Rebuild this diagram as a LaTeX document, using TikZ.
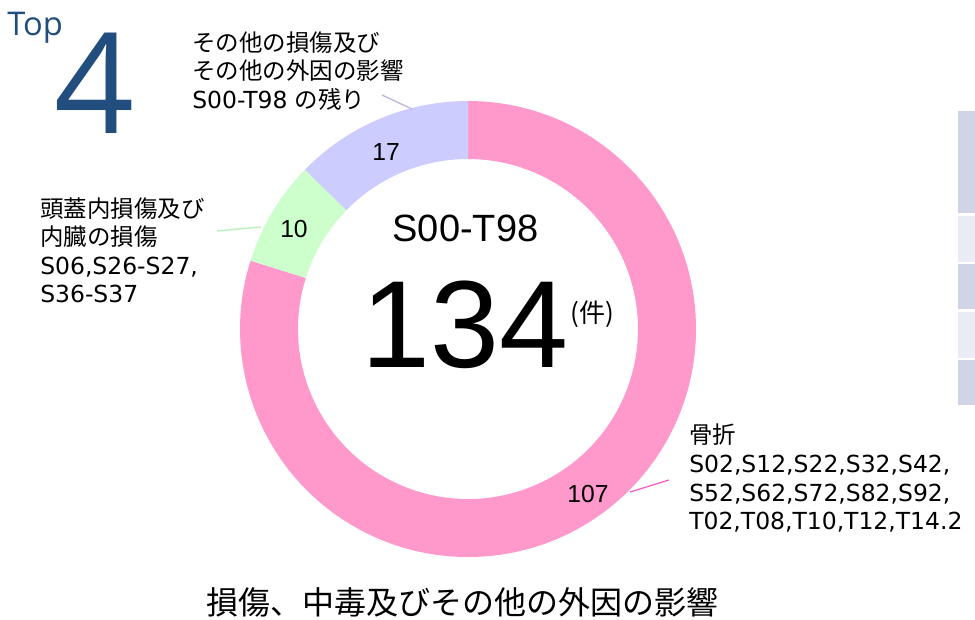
\documentclass[tikz,border=0pt]{standalone}
\usepackage{fontspec}
\setmainfont{DejaVu Sans}
\newfontfamily\jpfont{Noto Sans CJK JP}
\newfontfamily\numfont{Liberation Sans}
\newfontfamily\topfont{Open Sans}
\newcommand\ja[1]{{\jpfont #1}}

\definecolor{segpink}{HTML}{FF99CC}
\definecolor{seggreen}{HTML}{CCFFCC}
\definecolor{seglav}{HTML}{CCCCFF}
\definecolor{leadpink}{HTML}{F266C8}
\definecolor{leadgreen}{HTML}{B8F0B8}
\definecolor{leadlav}{HTML}{BDB6DA}
\definecolor{topblue}{HTML}{214D7F}
\definecolor{celldark}{HTML}{CFD5E7}
\definecolor{celllight}{HTML}{E9EBF5}

\begin{document}
\begin{tikzpicture}[x=0.75pt, y=-0.75pt,
    lbl/.style={anchor=north west, inner sep=0pt, align=left,
	font=\fontsize{17.6}{21.4}\selectfont},
    val/.style={inner sep=0pt, font=\numfont\fontsize{18.5}{20}\selectfont},
    lead/.style={line width=1pt}]
    \useasboundingbox (0, 0) rectangle (975, 619);

    % ring
    \begin{scope}[shift={(468, 329)}, y=0.75pt]
	\fill[segpink] (90:228) arc[start angle=90, end angle=-197.46, radius=228]
	    -- (-197.46:170) arc[start angle=-197.46, end angle=90, radius=170] -- cycle;
	\fill[seggreen] (-197.46:228) arc[start angle=-197.46, end angle=-224.33, radius=228]
	    -- (-224.33:170) arc[start angle=-224.33, end angle=-197.46, radius=170] -- cycle;
	\fill[seglav] (-224.33:228) arc[start angle=-224.33, end angle=-270, radius=228]
	    -- (-270:170) arc[start angle=-270, end angle=-224.33, radius=170] -- cycle;
    \end{scope}

    % table edge on the right
    \fill[celldark] (958, 111) rectangle (975, 213);
    \fill[celllight] (958, 216) rectangle (975, 262);
    \fill[celldark] (958, 264) rectangle (975, 309);
    \fill[celllight] (958, 312) rectangle (975, 358);
    \fill[celldark] (958, 360) rectangle (975, 405);

    \node[anchor=base west, inner sep=0pt, text=topblue,
	font=\topfont\fontsize{24.5}{26}\selectfont] (toplbl) at (7, 35) {Top};
    \node[anchor=base west, inner sep=0pt, text=topblue,
	font=\topfont\fontsize{105}{110}\selectfont] (rank) at (54, 133) {4};

    \node[inner sep=0pt, font=\numfont\fontsize{28.5}{30}\selectfont]
	(code) at (465.5, 228.5) {S00-T98};
    \node[inner sep=0pt, font=\numfont\fontsize{93}{98}\selectfont]
	(total) at (465, 325) {134};
    \node[inner sep=0pt, font=\jpfont\fontsize{19.5}{21}\selectfont]
	(unit) at (592, 314) {(件)};

    \node[val] (v17) at (386, 152.5) {17};
    \node[val] (v10) at (294, 229.5) {10};
    \node[val] (v107) at (588, 494) {107};

    \node[lbl] (lavlbl) at (192, 31)
	{\ja{その他の損傷及び}\\ \ja{その他の外因の影響}\\ S00-T98 \ja{の残り}};
    \node[lbl] (greenlbl) at (40, 197)
	{\ja{頭蓋内損傷及び}\\ \ja{内臓の損傷}\\ S06,S26-S27,\\ S36-S37};
    \node[lbl] (pinklbl) at (689, 424)
	{\ja{骨折}\\ S02,S12,S22,S32,S42,\\ S52,S62,S72,S82,S92,\\ T02,T08,T10,T12,T14.2};

    \coordinate (lav-a) at (382, 95);
    \coordinate (lav-b) at (412, 109);
    \coordinate (green-a) at (217, 231);
    \coordinate (green-b) at (261, 227);
    \coordinate (pink-a) at (669, 480);
    \coordinate (pink-b) at (630, 492);
    \draw[lead, leadlav] (lav-a) -- (lav-b);
    \draw[lead, leadgreen] (green-a) -- (green-b);
    \draw[lead, leadpink] (pink-a) -- (pink-b);

    \node[inner sep=0pt, font=\jpfont\fontsize{24}{26}\selectfont]
	(title) at (462, 602) {損傷、中毒及びその他の外因の影響};
\end{tikzpicture}
\end{document}
